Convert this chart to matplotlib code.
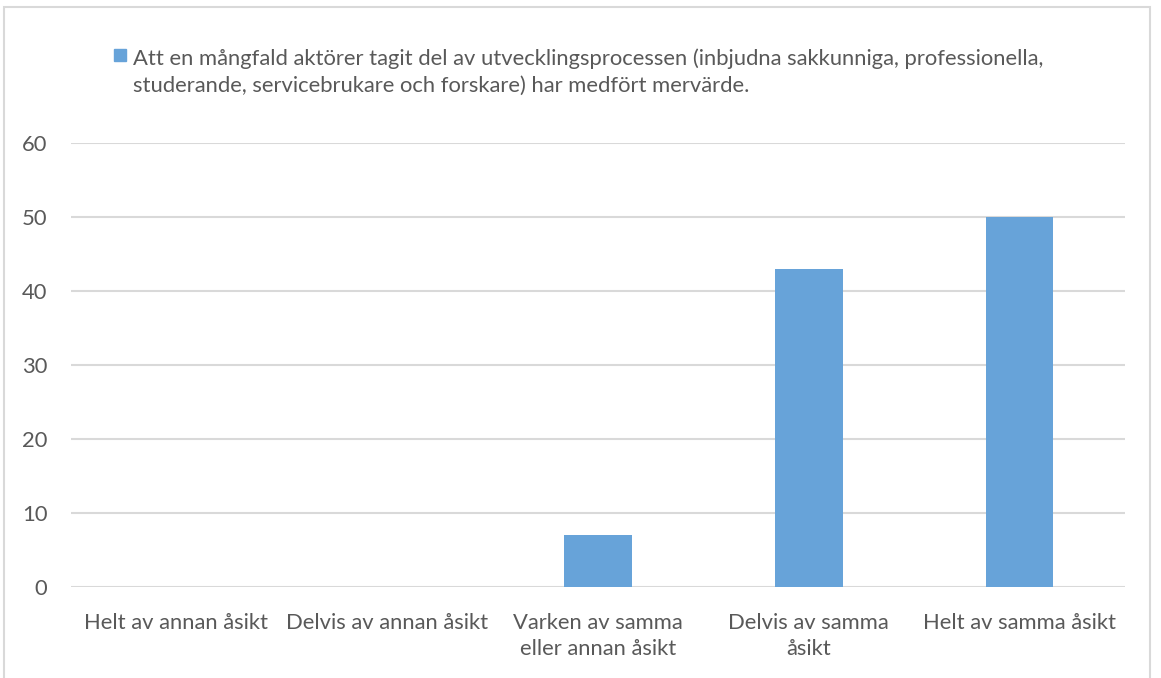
import matplotlib.pyplot as plt
from matplotlib.patches import Rectangle

#-----------------------
# Datos del diagrama
#-----------------------
categories = [
    "Helt av annan åsikt",
    "Delvis av annan åsikt",
    "Varken av samma\neller annan åsikt",
    "Delvis av samma\nåsikt",
    "Helt av samma åsikt",
]
values = [0, 0, 7, 43, 50]
series_name = ("Att en mångfald aktörer tagit del av utvecklingsprocessen (inbjudna sakkunniga, professionella,\n"
               "studerande, servicebrukare och forskare) har medfört mervärde.")
yticks = [0, 10, 20, 30, 40, 50, 60]

BAR_COLOR = "#67A3D9"
TEXT_COLOR = "#595959"
GRID_COLOR = "#D9D9D9"
FS = 15.8

plt.rcParams["font.family"] = ["Lato", "DejaVu Sans"]

fig = plt.figure(figsize=(11.61, 6.78), dpi=100)
W, H = 1161, 678

# marco exterior (como en Excel)
fig.patches.append(Rectangle((4 / W, -0.05), 1146 / W, 1 - 7 / H + 0.05,
                             transform=fig.transFigure, fill=False,
                             edgecolor=GRID_COLOR, linewidth=1.5))

ax = fig.add_axes([71 / W, 1 - 587 / H, (1125 - 71) / W, (587 - 143) / H])
x = range(len(categories))
ax.bar(x, values, width=0.32, color=BAR_COLOR, zorder=3)

ax.set_ylim(0, 60)
ax.set_xlim(-0.5, len(categories) - 0.5)
ax.set_yticks(yticks)
ax.set_xticks(list(x))
ax.set_xticklabels(categories)
ax.yaxis.grid(True, color=GRID_COLOR, linewidth=1.5, zorder=0)
for side in ("top", "right", "left", "bottom"):
    ax.spines[side].set_visible(False)
ax.tick_params(axis="both", length=0, colors=TEXT_COLOR, labelsize=FS)
ax.tick_params(axis="x", pad=18.5)
ax.tick_params(axis="y", pad=17)
for lbl in ax.get_xticklabels():
    lbl.set_linespacing(1.4)

# leyenda manual (cuadro alineado con la primera línea)
fig.patches.append(Rectangle((114 / W, 1 - 61 / H), 12 / W, 12 / H,
                             transform=fig.transFigure, color=BAR_COLOR))
fig.text(133 / W, 1 - 48 / H, series_name, ha="left", va="top",
         fontsize=FS, color=TEXT_COLOR, linespacing=1.45)

fig.savefig("out.png", dpi=100)
